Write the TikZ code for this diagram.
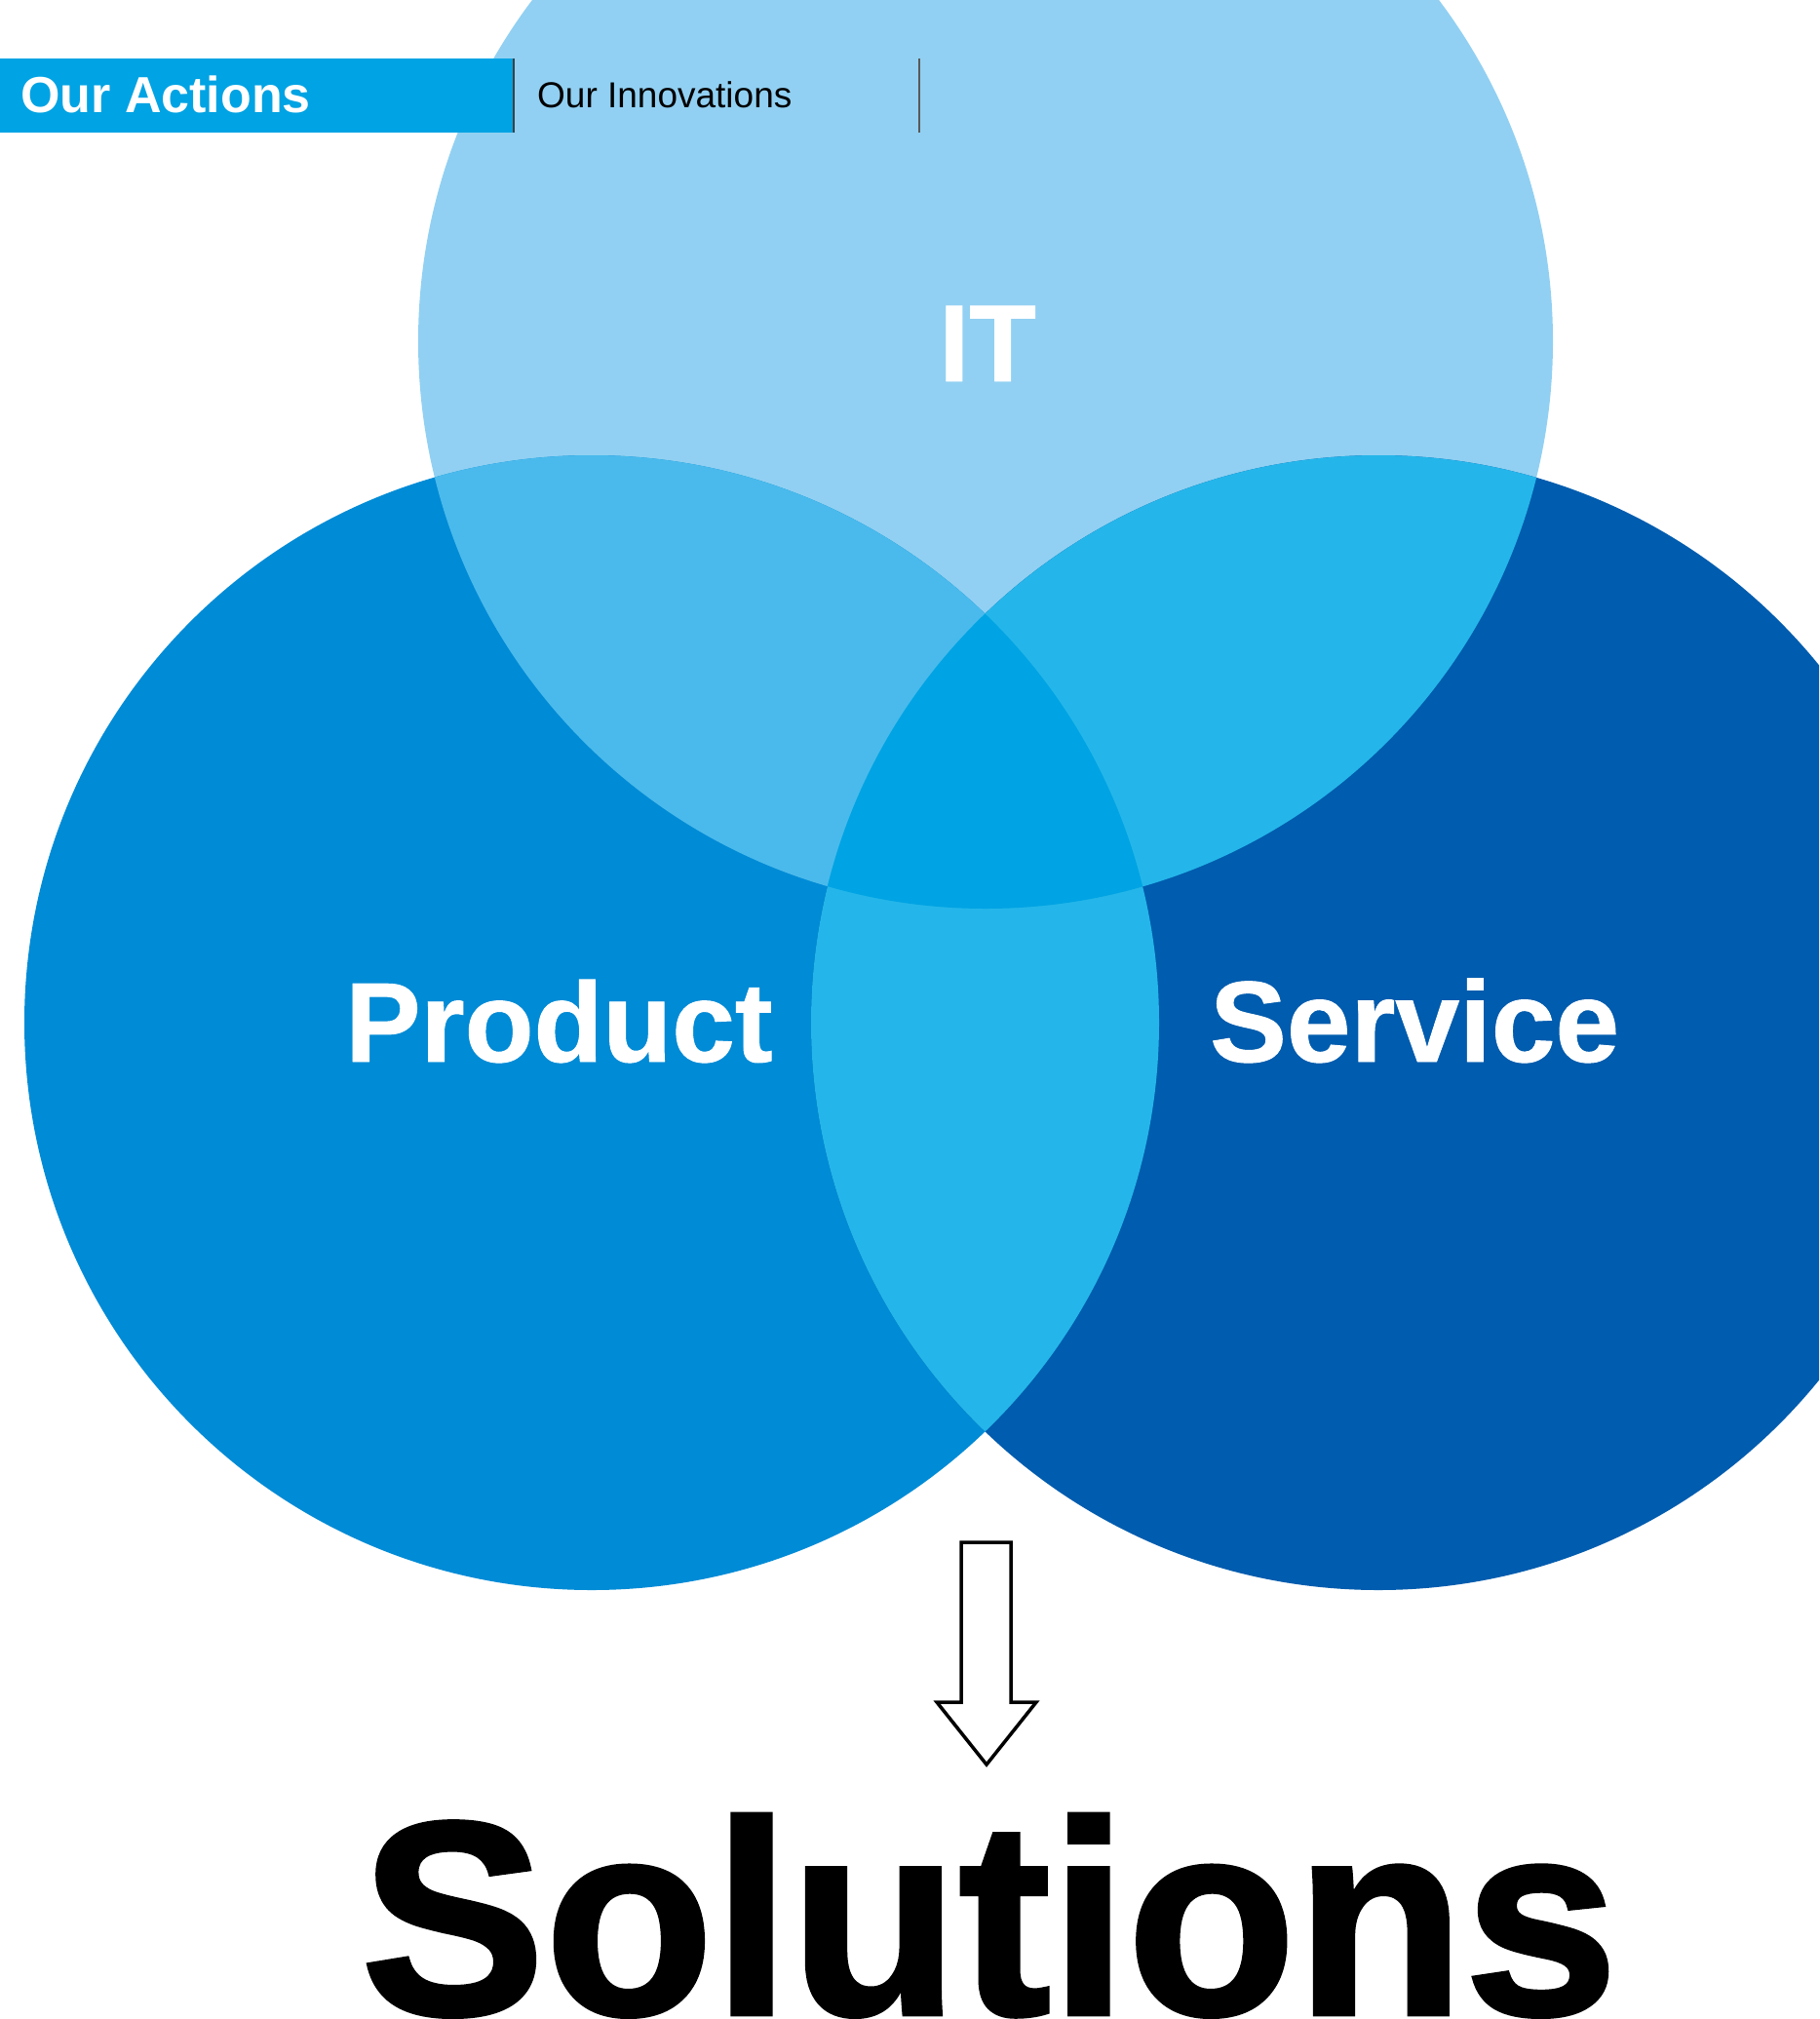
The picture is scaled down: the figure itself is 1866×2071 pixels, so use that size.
\documentclass[tikz,border=0pt]{standalone}
\usepackage{fontspec}
\setmainfont{Liberation Sans}
\newfontfamily\heavyfont[FakeBold=1.6]{Liberation Sans Bold}
\newfontfamily\semiheavy[FakeBold=0.8]{Liberation Sans Bold}
\definecolor{ITc}{HTML}{91D0F2}
\definecolor{PRc}{HTML}{008BD6}
\definecolor{SVc}{HTML}{005CAE}
\definecolor{PIc}{HTML}{4ABAEC}
\definecolor{SIc}{HTML}{24B6EA}
\definecolor{MIDc}{HTML}{00A3E3}
\tikzset{lbl/.style={inner sep=0pt, text depth=0pt, text=white}}

\begin{document}
\begin{tikzpicture}[x=1pt, y=-1pt]
  \useasboundingbox (0,0) rectangle (1866,2071);
  \clip (0,0) rectangle (1866,2071);
  \coordinate (it) at (1011,350);
  \coordinate (pr) at (607,1049);
  \coordinate (sv) at (1414,1049);
  % circles
  \fill[ITc] (it) circle (582pt);
  \fill[PRc] (pr) circle (582pt);
  \fill[SVc] (sv) circle (582pt);
  \begin{scope}
    \clip (it) circle (582pt);
    \fill[PIc] (pr) circle (582pt);
    \fill[SIc] (sv) circle (582pt);
  \end{scope}
  \begin{scope}
    \clip (pr) circle (582pt);
    \fill[SIc] (sv) circle (582pt);
    \clip (it) circle (582pt);
    \fill[MIDc] (sv) circle (582pt);
  \end{scope}
  % header
  \fill[MIDc] (0,60) rectangle (527,136);
  \draw[line width=1.5pt, black!75] (527,60) -- (527,136);
  \draw[line width=1.5pt, black!65] (943,60) -- (943,136);
  \node[lbl, anchor=base west, font=\fontsize{52}{52}\bfseries] (act) at (21,116) {Our Actions};
  \node[inner sep=0pt, anchor=base west, font=\fontsize{37}{37}\selectfont] (inn) at (551,111) {Our Innovations};
  % labels
  \node[lbl, anchor=base, font=\fontsize{112}{112}\semiheavy] (itl) at (1013,391) {IT};
  \node[lbl, anchor=base west, font=\fontsize{116}{116}\semiheavy] (prl) at (354,1089) {Product};
  \node[lbl, anchor=base west, font=\fontsize{118}{118}\semiheavy] (svl) at (1241,1089) {Service};
  % arrow
  \draw[line width=3.5pt, fill=white, line join=miter]
    (986,1582) -- (1037,1582) -- (1037,1746) -- (1063,1746) -- (1012,1810)
    -- (961,1746) -- (986,1746) -- cycle;
  \node[inner sep=0pt, text depth=0pt, anchor=base west, font=\fontsize{283}{283}\heavyfont] (sol) at (370,2066) {Solutions};
\end{tikzpicture}
\end{document}
